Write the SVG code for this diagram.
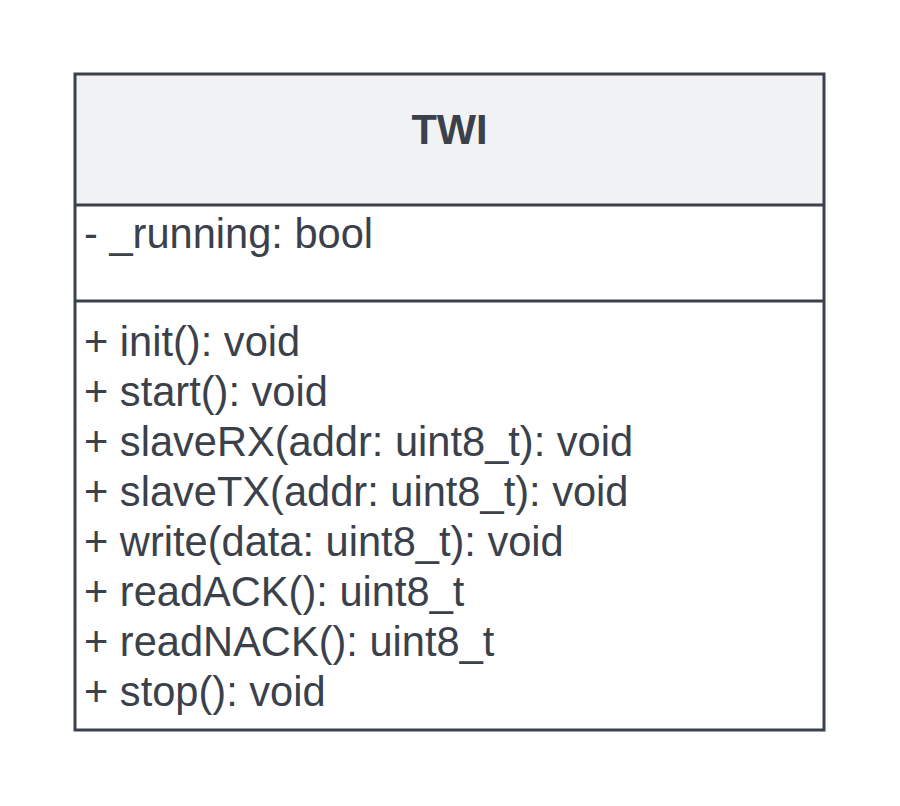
<svg xmlns="http://www.w3.org/2000/svg" width="900" height="806" viewBox="0 0 900 806">
<style>
.t{font-family:"Liberation Sans",Arial,sans-serif;font-size:41.6px;fill:#3a414b}
.h{font-weight:bold;text-anchor:middle}
.ln{stroke:#3a414b;stroke-width:3;fill:none}
</style>
<rect width="900" height="806" fill="#ffffff"/>
<g id="TWI">
<rect x="75" y="74" width="749" height="131" fill="#f1f2f4"/>
<rect x="75" y="205" width="749" height="525" fill="#ffffff"/>
<rect class="ln" x="75" y="74" width="749" height="656"/>
<line class="ln" x1="75" y1="205" x2="824" y2="205"/>
<line class="ln" x1="75" y1="301" x2="824" y2="301"/>
<text class="t h" x="449.5" y="144">TWI</text>
<text class="t" x="84" y="248">- _running: bool</text>
<text class="t" x="84" y="356">+ init(): void</text>
<text class="t" x="84" y="406">+ start(): void</text>
<text class="t" x="84" y="456">+ slaveRX(addr: uint8_t): void</text>
<text class="t" x="84" y="506">+ slaveTX(addr: uint8_t): void</text>
<text class="t" x="84" y="556">+ write(data: uint8_t): void</text>
<text class="t" x="84" y="606">+ readACK(): uint8_t</text>
<text class="t" x="84" y="656">+ readNACK(): uint8_t</text>
<text class="t" x="84" y="706">+ stop(): void</text>
</g>
<g id="connectors"></g>
</svg>
